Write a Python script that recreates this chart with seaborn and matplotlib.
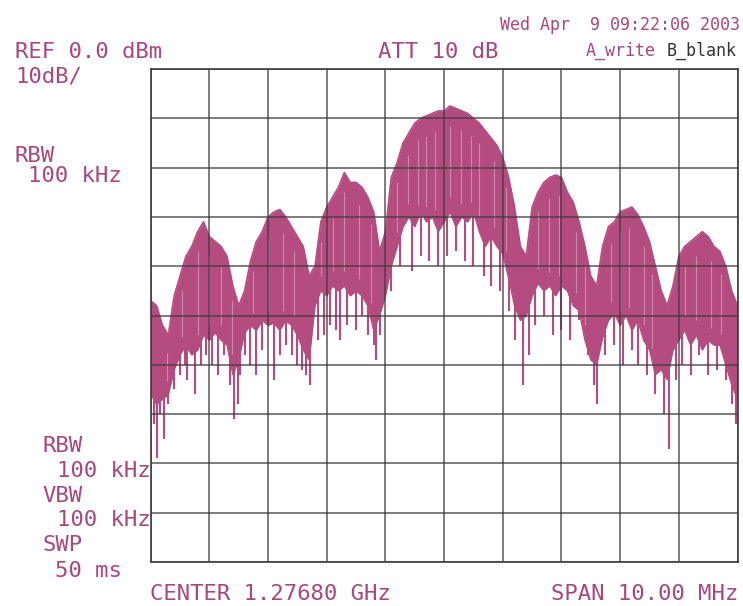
import numpy as np
import pandas as pd
import matplotlib
matplotlib.use("Agg")
import matplotlib.pyplot as plt
import seaborn as sns

# ---------------- data ----------------
# frequency offset from centre, MHz (one grid division = 1 MHz)
freq_offset_mhz = [round(-5.0 + 0.1 * i, 1) for i in range(101)]

# upper edge of the displayed trace, dBm
trace_top_dbm = [
    -47, -48, -52, -54, -46, -42, -38, -36, -33, -31,
    -34, -35, -36, -38, -44, -48, -45, -39, -35, -33,
    -30, -29, -28.5, -30, -32, -34, -36, -42, -40, -31,
    -28, -26, -24, -21, -23, -23, -24, -26, -29, -37,
    -33, -22, -19, -15, -13, -11, -10, -9.5, -9, -8.5,
    -8.5, -7.5, -8, -8.5, -9, -10, -11, -12.5, -14, -15.5,
    -18, -22, -28, -36, -38, -28, -25, -23, -22, -21.5,
    -22, -25, -27, -31, -36, -42, -44, -36, -32, -31,
    -29, -28.5, -28, -29.5, -32, -35, -40, -45, -48, -44,
    -38, -36, -35, -34, -33, -34, -36, -37, -40, -45,
    -48,
]

# lower edge of the dense part of the trace, dBm
trace_bottom_dbm = [
    -66, -68, -67, -66, -61, -58, -56, -58, -57, -54,
    -55, -53.5, -55, -56, -62, -59, -53.5, -52, -53, -51,
    -52, -51.5, -53, -51, -52, -54, -57, -59, -48, -45,
    -46, -44, -45, -44, -46, -45, -46, -48, -53, -50,
    -46, -40, -36, -32, -30, -32, -29, -31, -30, -33,
    -31, -29, -32, -30, -31, -29, -33, -36, -34, -36,
    -37.5, -42.5, -48, -51, -50, -46, -43.5, -45, -44, -46,
    -44, -45, -48, -49, -55, -59, -60, -54.5, -51, -49.5,
    -52, -50, -53, -51, -55, -57, -62, -61, -63, -57,
    -55, -53, -56, -54, -57, -55, -56, -56, -60, -64,
    -67,
]

# narrow dips hanging below the dense band
dip_offset_mhz = [
    -4.95, -4.9, -4.85, -4.78, -4.7, -4.6, -4.5, -4.42, -4.38, -4.3,
    -4.25, -4.15, -4.05, -3.95, -3.85, -3.75, -3.65, -3.58, -3.52, -3.47,
    -3.4, -3.3, -3.2, -3.1, -2.9, -2.8, -2.7, -2.6, -2.5, -2.42,
    -2.35, -2.28, -2.15, -2.05, -1.95, -1.85, -1.78, -1.65, -1.5, -1.4,
    -1.3, -1.2, -1.16, -1.1, -0.9, -0.75, -0.55, -0.4, -0.25, -0.1,
    0.05, 0.2, 0.35, 0.5, 0.68, 0.8, 0.95, 1.1, 1.2, 1.34,
    1.45, 1.55, 1.7, 1.85, 2.0, 2.15, 2.3, 2.45, 2.55, 2.6,
    2.75, 2.9, 3.05, 3.2, 3.3, 3.45, 3.6, 3.75, 3.83, 3.95,
    4.05, 4.2, 4.35, 4.5, 4.65, 4.8, 4.9, 4.98,
]
dip_floor_dbm = [
    -72, -79, -70, -75, -68, -65, -62, -60, -63, -58,
    -66, -60, -58, -60, -62, -58, -64, -71, -68, -62,
    -58, -60, -62, -57, -63, -58, -56, -58, -60, -61,
    -62, -64, -55, -54, -52, -53, -55, -52, -53, -50,
    -54, -56, -59, -54, -45, -40, -41, -38, -39, -40,
    -38, -37, -39, -40, -42, -44, -45, -49, -55, -64,
    -58, -52, -50, -54, -53, -55, -51, -58, -64, -68,
    -58, -56, -60, -57, -60, -62, -66, -70, -77, -63,
    -60, -62, -58, -62, -61, -63, -68, -72,
]

# light streaks running through the dense band
streak_offset_mhz = [
    -4.72, -4.47, -4.2, -4.0, -3.8, -3.62, -3.25, -3.0, -2.75, -2.55,
    -2.1, -1.9, -1.7, -1.45, -1.25, -0.8, -0.62, -0.45, -0.3, -0.15,
    0.1, 0.28, 0.45, 0.6, 0.85, 1.05, 1.6, 1.78, 1.95, 2.25,
    2.4, 2.85, 3.0, 3.15, 3.4, 3.55, 4.1, 4.3, 4.55, 4.72,
]

# ---------------- styling ----------------
sns.set_theme(style="white")
plt.rcParams["font.family"] = ["DejaVu Sans Mono", "DejaVu Sans"]

TXT = "#a8487c"
TRACE = "#b44c80"
GRID = "#3c3c3c"

W, H = 743, 606
fig = plt.figure(figsize=(W / 100, H / 100), dpi=100)
fig.patch.set_facecolor("white")
x0, x1, y0, y1 = 150.7, 737.5, 69.0, 562.0
ax = fig.add_axes([x0 / W, 1 - y1 / H, (x1 - x0) / W, (y1 - y0) / H])

df = pd.DataFrame({"f": freq_offset_mhz, "top": trace_top_dbm, "bot": trace_bottom_dbm})
ax.fill_between(df["f"], df["bot"], df["top"], color=TRACE, linewidth=0, zorder=1)
sns.lineplot(data=df, x="f", y="top", ax=ax, color=TRACE, linewidth=1.2, zorder=1.5)
sns.lineplot(data=df, x="f", y="bot", ax=ax, color=TRACE, linewidth=1.0, zorder=1.5)

f_arr = np.asarray(freq_offset_mhz)
dip_join = np.interp(dip_offset_mhz, f_arr, trace_bottom_dbm) + 3
ax.vlines(dip_offset_mhz, dip_floor_dbm, dip_join, color=TRACE, linewidth=1.5, zorder=1.5)

s_lo = np.interp(streak_offset_mhz, f_arr, trace_bottom_dbm) + 3
s_hi = np.interp(streak_offset_mhz, f_arr, trace_top_dbm) - 4
ax.vlines(streak_offset_mhz, s_lo, s_hi, color="white", alpha=0.35, linewidth=0.8, zorder=1.8)

ax.set_xlim(-5, 5)
ax.set_ylim(-100, 0)
ax.set_xticks(np.arange(-5, 6, 1))
ax.set_yticks(np.arange(-100, 1, 10))
ax.set_xticklabels([])
ax.set_yticklabels([])
ax.tick_params(length=0)
ax.set_xlabel("")
ax.set_ylabel("")
ax.set_axisbelow(False)
ax.grid(True, color=GRID, linewidth=1.1, alpha=0.85)
ax.set_facecolor("white")
for s in ax.spines.values():
    s.set_color(GRID)
    s.set_linewidth(1.2)


def txt(x, y, s, size=16, color=TXT, ha="left"):
    fig.text(x / W, 1 - y / H, s, fontsize=size, color=color, ha=ha, va="baseline")


txt(740, 30, "Wed Apr  9 09:22:06 2003", size=12, ha="right")
txt(15, 57.5, "REF 0.0 dBm")
txt(378, 57.5, "ATT 10 dB")
txt(586, 56, "A_write", size=12)
txt(667, 56, "B_blank", size=12, color="#333333")
txt(15, 83, "10dB/")
txt(15, 162, "RBW")
txt(28, 182, "100 kHz")
txt(42, 452, "RBW")
txt(57, 477, "100 kHz")
txt(42, 502, "VBW")
txt(57, 526, "100 kHz")
txt(42, 551, "SWP")
txt(55, 577, "50 ms")
txt(150, 600, "CENTER 1.27680 GHz")
txt(738, 600, "SPAN 10.00 MHz", ha="right")

fig.savefig("out.png", dpi=100)
